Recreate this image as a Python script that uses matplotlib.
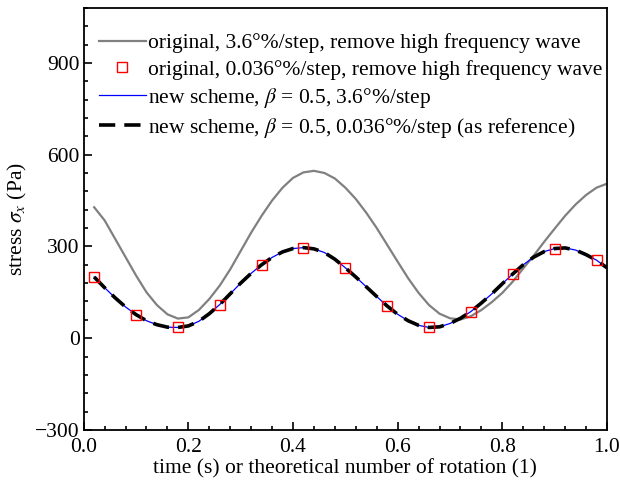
import matplotlib.pyplot as plt
from matplotlib.ticker import MultipleLocator

plt.rcParams['font.family'] = ['Liberation Serif', 'DejaVu Serif']
plt.rcParams['mathtext.fontset'] = 'stix'

# time axis of the curves (s)
t_curve = [0.02, 0.04, 0.06, 0.08, 0.10, 0.12, 0.14, 0.16, 0.18, 0.20,
           0.22, 0.24, 0.26, 0.28, 0.30, 0.32, 0.34, 0.36, 0.38, 0.40,
           0.42, 0.44, 0.46, 0.48, 0.50, 0.52, 0.54, 0.56, 0.58, 0.60,
           0.62, 0.64, 0.66, 0.68, 0.70, 0.72, 0.74, 0.76, 0.78, 0.80,
           0.82, 0.84, 0.86, 0.88, 0.90, 0.92, 0.94, 0.96, 0.98, 1.00]

# original, 3.6 deg/step
orig_coarse = [428, 385, 325, 265, 205, 150, 108, 78, 64, 68,
               92, 128, 172, 225, 285, 345, 400, 450, 492, 524,
               542, 547, 540, 522, 492, 455, 410, 360, 305, 250,
               196, 148, 108, 80, 65, 61, 72, 92, 118, 148,
               185, 228, 270, 315, 358, 400, 437, 468, 492, 505]

# new scheme, beta = 0.5, 3.6 deg/step
new_coarse = [200, 165, 132, 102, 77, 57, 44, 36, 35, 40,
              55, 80, 110, 145, 180, 212, 240, 264, 282, 293,
              296, 292, 280, 258, 230, 200, 168, 136, 105, 78,
              57, 42, 35, 37, 48, 65, 87, 115, 145, 178,
              210, 240, 265, 283, 293, 295, 288, 273, 255, 230]

# new scheme, beta = 0.5, 0.036 deg/step (reference)
new_fine = [200, 165, 132, 102, 77, 57, 44, 36, 35, 40,
            55, 80, 110, 145, 180, 212, 240, 264, 282, 293,
            296, 292, 280, 258, 230, 200, 168, 136, 105, 78,
            57, 42, 35, 37, 48, 65, 87, 115, 145, 178,
            210, 240, 265, 283, 293, 295, 288, 273, 255, 230]

# original, 0.036 deg/step (markers)
t_marker = [0.02, 0.10, 0.18, 0.26, 0.34, 0.42, 0.50, 0.58, 0.66, 0.74, 0.82, 0.90, 0.98]
orig_fine = [200, 75, 35, 110, 240, 295, 230, 105, 35, 85, 210, 292, 255]

fig = plt.figure(figsize=(6.2, 4.88), dpi=100)
ax = fig.add_axes([0.135, 0.119, 0.844, 0.865])

ax.plot(t_curve, orig_coarse, color='#808080', lw=1.6,
        label='original, 3.6°%/step, remove high frequency wave')
ax.plot(t_marker, orig_fine, ls='none', marker='s', ms=6.5, mfc='none',
        mec='red', mew=1.0, zorder=5,
        label='original, 0.036°%/step, remove high frequency wave')
ax.plot(t_curve, new_coarse, color='blue', lw=0.9,
        label=r'new scheme, $\beta$ = 0.5, 3.6°%/step')
ax.plot(t_curve, new_fine, color='black', lw=2.6, dashes=(4.5, 2.5),
        label=r'new scheme, $\beta$ = 0.5, 0.036°%/step (as reference)')

ax.set_xlim(0, 1.0)
ax.set_ylim(-300, 1080)
ax.set_xticks([0.0, 0.2, 0.4, 0.6, 0.8, 1.0])
ax.set_yticks([-300, 0, 300, 600, 900])
ax.set_yticklabels(['\u2212300', '0', '300', '600', '900'])
ax.xaxis.set_minor_locator(MultipleLocator(0.04))
ax.yaxis.set_minor_locator(MultipleLocator(60))
ax.tick_params(which='both', direction='in', labelsize=15.5, width=1.2)
ax.tick_params(which='major', length=6)
ax.tick_params(axis='x', which='major', pad=6)
ax.tick_params(axis='y', which='major', pad=3)
ax.tick_params(which='minor', length=3)
for s in ax.spines.values():
    s.set_linewidth(1.3)

ax.set_xlabel('time (s) or theoretical number of rotation (1)', fontsize=15.5, labelpad=1)
ax.set_ylabel(r'stress $\sigma_x$ (Pa)', fontsize=15.5, labelpad=4)

ax.legend(loc='upper left', bbox_to_anchor=(0.0, 0.975), frameon=False,
          fontsize=15.5, handlelength=2.2, handletextpad=0.1,
          labelspacing=0.28, borderaxespad=0.3)

fig.savefig('out.png', dpi=100)
